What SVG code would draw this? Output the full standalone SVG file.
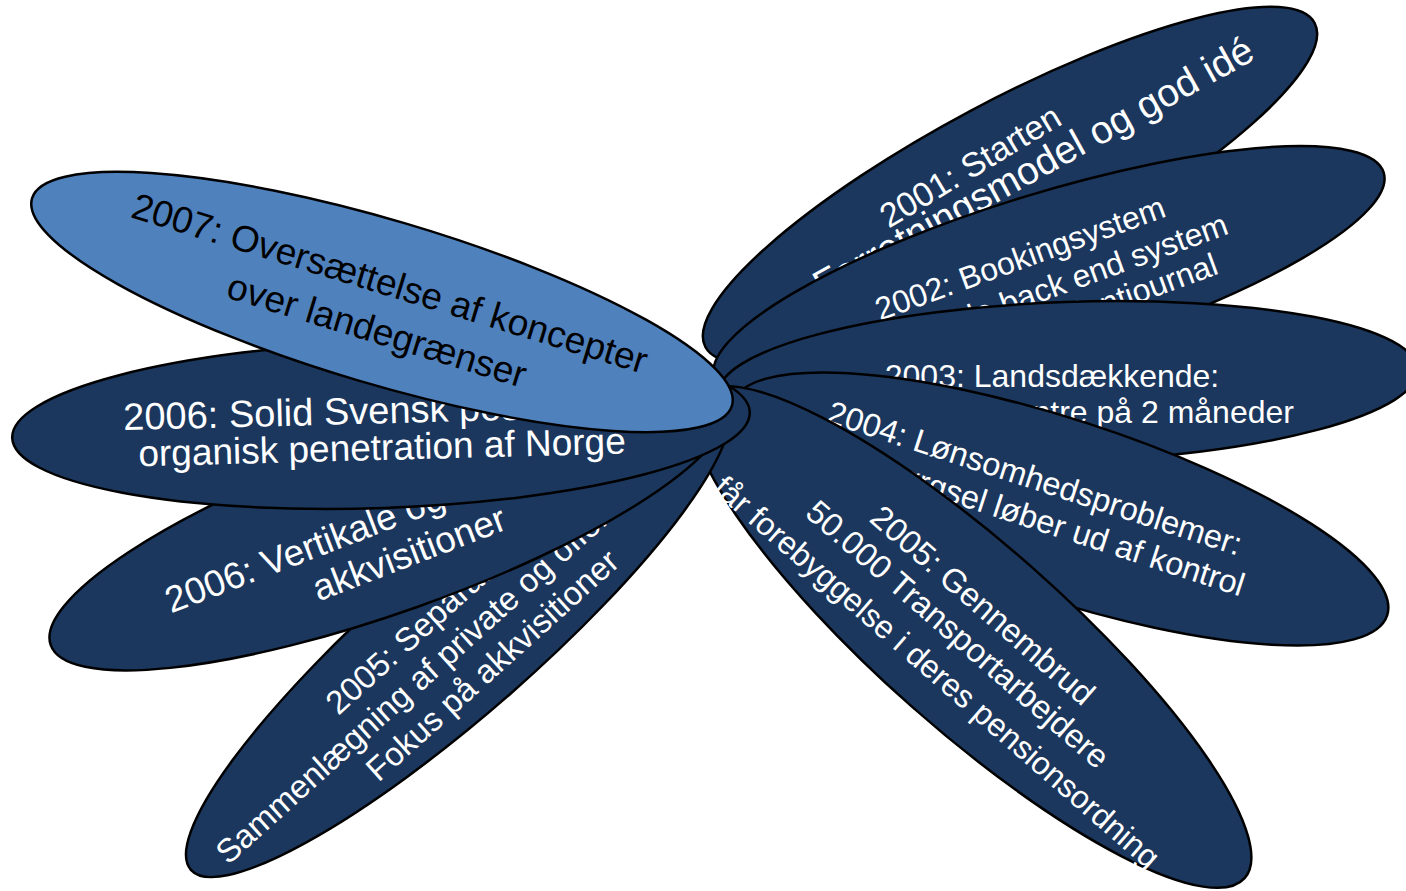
<svg xmlns="http://www.w3.org/2000/svg" width="1406" height="891" viewBox="0 0 1406 891">
<style>
.p{fill:#1B375E;stroke:#000;stroke-width:2.5}
.pl{fill:#4F81BD;stroke:#000;stroke-width:2.5}
text{font-family:"Liberation Sans",Arial,sans-serif;text-anchor:middle;fill:#fff}
.k{fill:#000}
</style>
<rect width="1406" height="891" fill="#fff"/>
<g id="p2001">
<ellipse class="p" cx="0" cy="0" rx="345" ry="84" transform="translate(1010,185) rotate(-28)"/>
<text font-size="34" transform="translate(970,166) rotate(-31)" dy="0.35em">2001: Starten</text>
<text font-size="39" transform="translate(1033,167) rotate(-29)" dy="0.35em">Forretningsmodel og god idé</text>
</g>
<g id="p2002">
<ellipse class="p" cx="0" cy="0" rx="350" ry="82" transform="translate(1049,275) rotate(-17)"/>
<text font-size="32" transform="translate(1020,258) rotate(-20)" dy="0.35em">2002: Bookingsystem</text>
<text font-size="32" transform="translate(1050,287) rotate(-20)" dy="0.35em">Fleksible back end system</text>
<text font-size="32" transform="translate(1048,324) rotate(-20)" dy="0.35em">Elektronisk patientjournal</text>
</g>
<g id="p2003">
<ellipse class="p" cx="0" cy="0" rx="350" ry="80" transform="translate(1068,382) rotate(-2)"/>
<text font-size="32" transform="translate(1052,376)" dy="0.35em">2003: Landsdækkende:</text>
<text font-size="32" transform="translate(1052,412)" dy="0.35em">Åbning af 10 centre på 2 måneder</text>
</g>
<g id="p2004">
<ellipse class="p" cx="0" cy="0" rx="344" ry="90" transform="translate(1060,509) rotate(18)"/>
<text font-size="32.5" transform="translate(1035,478) rotate(18)" dy="0.35em">2004: Lønsomhedsproblemer:</text>
<text font-size="32.5" transform="translate(1023,514) rotate(18)" dy="0.35em">Efterspørgsel løber ud af kontrol</text>
</g>
<g id="p2005g">
<ellipse class="p" cx="0" cy="0" rx="364" ry="92" transform="translate(972,637) rotate(41.5)"/>
<text font-size="33" transform="translate(983,605) rotate(41)" dy="0.35em">2005: Gennembrud</text>
<text font-size="33" transform="translate(958,634) rotate(41)" dy="0.35em">50.000 Transportarbejdere</text>
<text font-size="32" transform="translate(937,672) rotate(41)" dy="0.35em">får forebyggelse i deres pensionsordning</text>
</g>
<g id="p2005s">
<ellipse class="p" cx="0" cy="0" rx="355" ry="78" transform="translate(458,636) rotate(-41.2)"/>
<text font-size="33" transform="translate(441,608) rotate(-42)" dy="0.35em">2005: Separation og</text>
<text font-size="33" transform="translate(437,662) rotate(-42)" dy="0.35em">Sammenlægning af private og offentlige</text>
<text font-size="33" transform="translate(492,665) rotate(-42)" dy="0.35em">Fokus på akkvisitioner</text>
</g>
<g id="p2006v">
<ellipse class="p" cx="0" cy="0" rx="358" ry="87" transform="translate(388,525) rotate(-19.6)"/>
<text font-size="37" transform="translate(394,514) rotate(-21)" dy="0.35em">2006: Vertikale og horisontale</text>
<text font-size="37" transform="translate(409,553) rotate(-21)" dy="0.35em">akkvisitioner</text>
</g>
<g id="p2006s">
<ellipse class="p" cx="0" cy="0" rx="369" ry="83" transform="translate(381,425) rotate(-2)"/>
<text font-size="38" transform="translate(383,410) rotate(-1.5)" dy="0.35em">2006: Solid Svensk position og</text>
<text font-size="37" transform="translate(382,447) rotate(-1.5)" dy="0.35em">organisk penetration af Norge</text>
</g>
<g id="p2007">
<ellipse class="pl" cx="0" cy="0" rx="365" ry="82" transform="translate(382,302) rotate(16.5)"/>
<text class="k" font-size="37" transform="translate(390,283) rotate(17)" dy="0.35em">2007: Oversættelse af koncepter</text>
<text class="k" font-size="37" transform="translate(377,330) rotate(17)" dy="0.35em">over landegrænser</text>
</g>
<g id="connectors"/>
</svg>
